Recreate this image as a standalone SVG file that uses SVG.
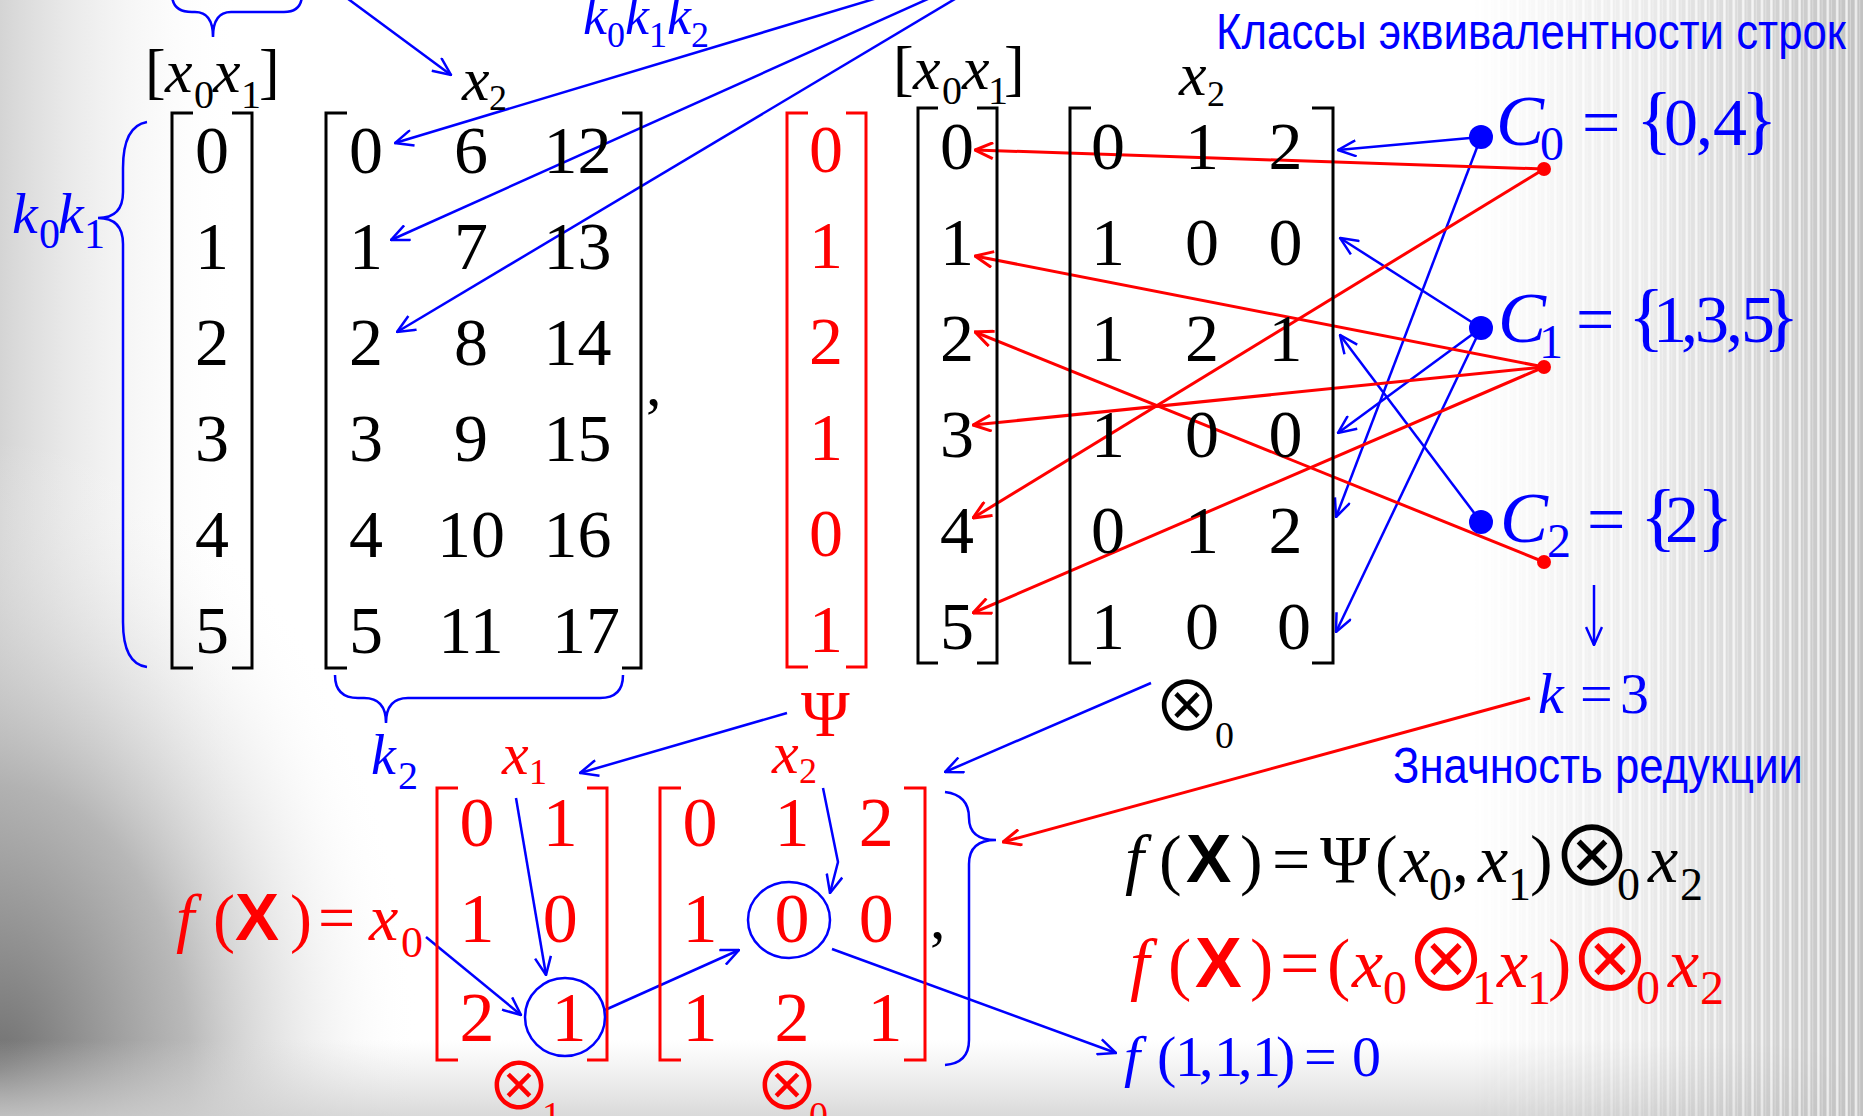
<svg xmlns="http://www.w3.org/2000/svg" width="1863" height="1116" viewBox="0 0 1863 1116">
<defs>
<style>
text{font-family:"Liberation Serif","Times New Roman",serif}
.i{font-style:italic}
.b{font-family:"Liberation Sans",Arial,sans-serif;font-weight:bold;font-style:normal}
.sym{font-family:"Noto Sans CJK JP","Noto Sans CJK SC","DejaVu Sans",sans-serif;font-style:normal;text-anchor:middle}
.sans{font-family:"Liberation Sans",Arial,sans-serif}
.K{fill:#000}.B{fill:#00f}.R{fill:#f00}
.mid{text-anchor:middle}
.bk{fill:none;stroke:#000;stroke-width:3}
.brd{fill:none;stroke:#f00;stroke-width:3}
.brace{fill:none;stroke:#00f;stroke-width:2.5}
.cb{fill:none;stroke:#00f;stroke-width:2.5;marker-end:url(#ab)}
.cr{fill:none;stroke:#f00;stroke-width:3;marker-end:url(#ar)}
.ring{fill:none;stroke:#00f;stroke-width:2.5}
</style>
<marker id="ab" viewBox="0 0 20 18" refX="19" refY="9" markerWidth="20" markerHeight="18" orient="auto" markerUnits="userSpaceOnUse"><path d="M1,1 L19,9 L1,17" fill="none" stroke="#00f" stroke-width="2.5"/></marker>
<marker id="ar" viewBox="0 0 20 18" refX="19" refY="9" markerWidth="20" markerHeight="18" orient="auto" markerUnits="userSpaceOnUse"><path d="M1,1 L19,9 L1,17" fill="none" stroke="#f00" stroke-width="3"/></marker>
<linearGradient id="gl" x1="0" x2="240" y1="0" y2="0" gradientUnits="userSpaceOnUse"><stop offset="0" stop-color="#d4d4d4"/><stop offset="1" stop-color="#fff" stop-opacity="0"/></linearGradient>
<radialGradient id="gbl" cx="0" cy="1070" r="420" gradientUnits="userSpaceOnUse" gradientTransform="translate(0,1070) scale(1,1.5) translate(0,-1070)"><stop offset="0" stop-color="#707070"/><stop offset="0.45" stop-color="#a8a8a8" stop-opacity="0.8"/><stop offset="1" stop-color="#fff" stop-opacity="0"/></radialGradient>
<linearGradient id="gbot" x1="0" x2="0" y1="1040" y2="1116" gradientUnits="userSpaceOnUse"><stop offset="0" stop-color="#d8d8d8" stop-opacity="0"/><stop offset="1" stop-color="#d0d0d0" stop-opacity="0.8"/></linearGradient>
<pattern id="stripes" x="0" y="0" width="9.4" height="20" patternUnits="userSpaceOnUse"><rect width="9.4" height="20" fill="#c2c2c2"/><rect x="3" width="2.4" height="20" fill="#f0f0f0"/><rect x="7.4" width="1" height="20" fill="#d8d8d8"/></pattern>
<linearGradient id="gfade" x1="1470" x2="1863" y1="0" y2="0" gradientUnits="userSpaceOnUse"><stop offset="0" stop-color="#000"/><stop offset="0.45" stop-color="#555"/><stop offset="1" stop-color="#fff"/></linearGradient>
<mask id="mfade"><rect x="1400" y="0" width="463" height="1116" fill="url(#gfade)"/></mask>
</defs>

<g id="background">
<rect width="1863" height="1116" fill="#fff"/>
<rect width="300" height="1116" fill="url(#gl)"/>
<rect width="700" height="1116" fill="url(#gbl)"/>
<rect y="1040" width="1863" height="76" fill="url(#gbot)"/>
<rect x="1400" width="463" height="1116" fill="url(#stripes)" mask="url(#mfade)"/>
</g>

<g id="connectors">
<line class="cb" x1="336" y1="-10" x2="451" y2="75"/>
<line class="cb" x1="1037" y1="-50" x2="395" y2="143"/>
<line class="cb" x1="1037" y1="-50" x2="391" y2="240"/>
<line class="cb" x1="1037" y1="-50" x2="397" y2="332"/>
<line class="cb" x1="1481" y1="137" x2="1338" y2="150"/>
<line class="cb" x1="1481" y1="137" x2="1336" y2="517"/>
<line class="cb" x1="1481" y1="328" x2="1340" y2="238"/>
<line class="cb" x1="1481" y1="328" x2="1338" y2="433"/>
<line class="cb" x1="1481" y1="328" x2="1336" y2="632"/>
<line class="cb" x1="1481" y1="522" x2="1340" y2="335"/>
<line class="cb" x1="1594" y1="585" x2="1594" y2="645"/>
<line class="cb" x1="787" y1="713" x2="580" y2="773"/>
<line class="cb" x1="1151" y1="683" x2="945" y2="772"/>
<line class="cb" x1="516" y1="798" x2="546" y2="975"/>
<line class="cb" x1="426" y1="937" x2="521" y2="1015"/>
<line class="cb" x1="605" y1="1010" x2="739" y2="950"/>
<polyline class="cb" points="823,788 838,862 830,893"/>
<line class="cb" x1="832" y1="949" x2="1116" y2="1053"/>
<line class="cr" x1="1544" y1="169" x2="975" y2="150"/>
<line class="cr" x1="1544" y1="169" x2="973" y2="518"/>
<line class="cr" x1="1544" y1="367" x2="975" y2="256"/>
<line class="cr" x1="1544" y1="367" x2="973" y2="425"/>
<line class="cr" x1="1544" y1="367" x2="973" y2="613"/>
<line class="cr" x1="1544" y1="562" x2="975" y2="332"/>
<line class="cr" x1="1530" y1="698" x2="1003" y2="842"/>
</g>

<g id="title-classes">
<text class="sans B" x="1216" y="49" font-size="50" textLength="630" lengthAdjust="spacingAndGlyphs">Классы эквивалентности строк</text>
</g>

<g id="brace-top"><path class="brace" d="M172,-6 Q172,12 192,12 L195,12 Q213,12 213,37 Q213,12 231,12 L284,12 Q302,12 302,-6"/></g>

<g id="label-k0k1k2">
<text class="B" font-size="54"><tspan class="i" x="583" y="34">k</tspan><tspan x="607" y="47" font-size="36">0</tspan><tspan class="i" x="625" y="34">k</tspan><tspan x="649" y="47" font-size="36">1</tspan><tspan class="i" x="667" y="34">k</tspan><tspan x="691" y="47" font-size="36">2</tspan></text>
</g>

<g id="label-x0x1-left">
<text class="K" font-size="62"><tspan x="145" y="92">[</tspan><tspan class="i" x="165" y="92">x</tspan><tspan x="194" y="108" font-size="40">0</tspan><tspan class="i" x="213" y="92">x</tspan><tspan x="241" y="108" font-size="40">1</tspan><tspan x="259" y="92">]</tspan></text>
</g>
<g id="label-x2-left">
<text class="K" font-size="62"><tspan class="i" x="462" y="100">x</tspan><tspan x="489" y="110" font-size="36">2</tspan></text>
</g>

<g id="label-k0k1">
<text class="B" font-size="58"><tspan class="i" x="12" y="233">k</tspan><tspan x="39" y="248" font-size="42">0</tspan><tspan class="i" x="58" y="233">k</tspan><tspan x="84" y="248" font-size="42">1</tspan></text>
<path class="brace" d="M147,122 Q123,126 123,168 L123,192 Q123,218 98,218 Q123,218 123,244 L123,622 Q123,664 147,667"/>
</g>

<g id="matrix-index">
<path class="bk" d="M193,113 H172 V668 H193 M232,113 H252 V668 H232"/>
<text class="K mid" font-size="68"><tspan x="212" y="173">0</tspan><tspan x="212" y="269">1</tspan><tspan x="212" y="365">2</tspan><tspan x="212" y="461">3</tspan><tspan x="212" y="557">4</tspan><tspan x="212" y="653">5</tspan></text>
</g>

<g id="matrix-values">
<path class="bk" d="M347,113 H326 V668 H347 M622,113 H641 V668 H622"/>
<text class="K mid" font-size="68">
<tspan x="366" y="173">0</tspan><tspan x="471" y="173">6</tspan><tspan x="586" y="173">12</tspan>
<tspan x="366" y="269">1</tspan><tspan x="471" y="269">7</tspan><tspan x="586" y="269">13</tspan>
<tspan x="366" y="365">2</tspan><tspan x="471" y="365">8</tspan><tspan x="586" y="365">14</tspan>
<tspan x="366" y="461">3</tspan><tspan x="471" y="461">9</tspan><tspan x="586" y="461">15</tspan>
<tspan x="366" y="557">4</tspan><tspan x="471" y="557">10</tspan><tspan x="586" y="557">16</tspan>
<tspan x="366" y="653">5</tspan><tspan x="471" y="653">11</tspan><tspan x="586" y="653">17</tspan>
</text>
<text class="K" x="646" y="405" font-size="62">,</text>
<path class="brace" d="M335,675 Q335,698 358,698 L364,698 Q386,698 386,723 Q386,698 408,698 L600,698 Q623,698 623,675"/>
</g>

<g id="label-k2">
<text class="B" font-size="56"><tspan class="i" x="371" y="774">k</tspan><tspan x="398" y="789" font-size="40">2</tspan></text>
</g>

<g id="psi-vector">
<path class="brd" d="M808,113 H787 V667 H808 M846,113 H866 V667 H846"/>
<text class="R mid" font-size="68"><tspan x="826" y="172">0</tspan><tspan x="826" y="268">1</tspan><tspan x="826" y="364">2</tspan><tspan x="826" y="460">1</tspan><tspan x="826" y="556">0</tspan><tspan x="826" y="652">1</tspan></text>
</g>
<g id="psi-label"><text class="R" x="801" y="736" font-size="66">Ψ</text></g>

<g id="label-x0x1-right">
<text class="K" font-size="62"><tspan x="893" y="89">[</tspan><tspan class="i" x="913" y="89">x</tspan><tspan x="942" y="104" font-size="40">0</tspan><tspan class="i" x="962" y="89">x</tspan><tspan x="988" y="104" font-size="40">1</tspan><tspan x="1004" y="89">]</tspan></text>
</g>
<g id="matrix-x0x1-right">
<path class="bk" d="M938,108 H918 V663 H938 M977,108 H997 V663 H977"/>
<text class="K mid" font-size="68"><tspan x="957" y="169">0</tspan><tspan x="957" y="265">1</tspan><tspan x="957" y="361">2</tspan><tspan x="957" y="457">3</tspan><tspan x="957" y="553">4</tspan><tspan x="957" y="649">5</tspan></text>
</g>

<g id="label-x2-right">
<text class="K" font-size="62"><tspan class="i" x="1179" y="95">x</tspan><tspan x="1207" y="106" font-size="36">2</tspan></text>
</g>
<g id="matrix-x2-right">
<path class="bk" d="M1091,108 H1070 V663 H1091 M1312,108 H1333 V663 H1312"/>
<text class="K mid" font-size="68">
<tspan x="1108" y="169">0</tspan><tspan x="1202" y="169">1</tspan><tspan x="1294" y="169">2</tspan>
<tspan x="1108" y="265">1</tspan><tspan x="1202" y="265">0</tspan><tspan x="1294" y="265">0</tspan>
<tspan x="1108" y="361">1</tspan><tspan x="1202" y="361">2</tspan><tspan x="1294" y="361">1</tspan>
<tspan x="1108" y="457">1</tspan><tspan x="1202" y="457">0</tspan><tspan x="1294" y="457">0</tspan>
<tspan x="1108" y="553">0</tspan><tspan x="1202" y="553">1</tspan><tspan x="1294" y="553">2</tspan>
<tspan x="1108" y="649">1</tspan><tspan x="1202" y="649">0</tspan><tspan x="1294" y="649">0</tspan>
</text>
</g>

<g id="class-c0">
<circle cx="1481" cy="137" r="12" fill="#00f"/>
<circle cx="1544" cy="169" r="7" fill="#f00"/>
<text class="B" font-size="68"><tspan class="i" x="1496" y="145" font-size="72">C</tspan><tspan x="1540" y="160" font-size="48">0</tspan><tspan x="1582" y="145">=</tspan><tspan x="1636" y="145" font-size="76">{</tspan><tspan x="1664" y="145">0</tspan><tspan x="1696" y="145">,</tspan><tspan x="1713" y="145">4</tspan><tspan x="1741" y="145" font-size="76">}</tspan></text>
</g>
<g id="class-c1">
<circle cx="1481" cy="328" r="12" fill="#00f"/>
<circle cx="1544" cy="367" r="7" fill="#f00"/>
<text class="B" font-size="68"><tspan class="i" x="1498" y="342" font-size="72">C</tspan><tspan x="1539" y="358" font-size="48">1</tspan><tspan x="1576" y="342">=</tspan><tspan x="1628" y="342" font-size="76">{</tspan><tspan x="1653" y="342">1</tspan><tspan x="1681" y="342">,</tspan><tspan x="1695" y="342">3</tspan><tspan x="1726" y="342">,</tspan><tspan x="1741" y="342">5</tspan><tspan x="1763" y="342" font-size="76">}</tspan></text>
</g>
<g id="class-c2">
<circle cx="1481" cy="522" r="12" fill="#00f"/>
<circle cx="1544" cy="562" r="7" fill="#f00"/>
<text class="B" font-size="68"><tspan class="i" x="1500" y="542" font-size="72">C</tspan><tspan x="1547" y="557" font-size="48">2</tspan><tspan x="1587" y="542">=</tspan><tspan x="1640" y="542" font-size="76">{</tspan><tspan x="1665" y="542">2</tspan><tspan x="1697" y="542" font-size="76">}</tspan></text>
</g>

<g id="k3">
<text class="B" font-size="58"><tspan class="i" x="1538" y="713">k</tspan><tspan x="1580" y="713">=</tspan><tspan x="1620" y="713">3</tspan></text>
</g>
<g id="reduction-label">
<text class="sans B" x="1393" y="783" font-size="50" textLength="410" lengthAdjust="spacingAndGlyphs">Значность редукции</text>
</g>

<g id="otimes0">
<text class="sym K" x="1187" y="731" font-size="68">⊗</text>
<text class="K" x="1215" y="748" font-size="38">0</text>
</g>

<g id="fx-left">
<text class="R" font-size="66"><tspan class="i" x="176" y="940">f</tspan><tspan x="213" y="940">(</tspan><tspan class="b" x="235" y="940">X</tspan><tspan x="290" y="940">)</tspan><tspan x="318" y="940">=</tspan><tspan class="i" x="369" y="940">x</tspan><tspan x="401" y="957" font-size="44">0</tspan></text>
</g>

<g id="label-x1-low"><text class="R" font-size="60"><tspan class="i" x="502" y="774">x</tspan><tspan x="529" y="784" font-size="36">1</tspan></text></g>
<g id="matrix-a">
<path class="brd" d="M458,788 H437 V1060 H458 M587,788 H607 V1060 H587"/>
<text class="R mid" font-size="70">
<tspan x="477" y="846">0</tspan><tspan x="569" y="846">1</tspan>
<tspan x="477" y="942">1</tspan><tspan x="569" y="942">0</tspan>
<tspan x="477" y="1041">2</tspan><tspan x="569" y="1041">1</tspan>
</text>
<ellipse class="ring" cx="565" cy="1017" rx="40" ry="39"/>
<text class="sym R" x="519" y="1110" font-size="66">⊗</text>
<text class="R" x="542" y="1128" font-size="38">1</text>
</g>

<g id="label-x2-low"><text class="R" font-size="60"><tspan class="i" x="772" y="773">x</tspan><tspan x="799" y="783" font-size="36">2</tspan></text></g>
<g id="matrix-b">
<path class="brd" d="M681,788 H660 V1060 H681 M904,788 H925 V1060 H904"/>
<text class="R mid" font-size="70">
<tspan x="700" y="846">0</tspan><tspan x="792" y="846">1</tspan><tspan x="885" y="846">2</tspan>
<tspan x="700" y="942">1</tspan><tspan x="792" y="942">0</tspan><tspan x="885" y="942">0</tspan>
<tspan x="700" y="1041">1</tspan><tspan x="792" y="1041">2</tspan><tspan x="885" y="1041">1</tspan>
</text>
<ellipse class="ring" cx="789" cy="920" rx="41" ry="38"/>
<text class="K" x="930" y="938" font-size="62">,</text>
<text class="sym R" x="787" y="1110" font-size="66">⊗</text>
<text class="R" x="809" y="1128" font-size="38">0</text>
</g>

<g id="brace-right"><path class="brace" d="M945,792 Q969,795 969,818 Q969,840 996,840 Q969,840 969,864 L969,1040 Q969,1063 945,1065"/></g>

<g id="formula-psi">
<text class="K" font-size="68"><tspan class="i" x="1125" y="882">f</tspan><tspan x="1159" y="882">(</tspan><tspan class="b" x="1186" y="882">X</tspan><tspan x="1240" y="882">)</tspan><tspan x="1272" y="882">=</tspan><tspan x="1320" y="882">Ψ</tspan><tspan x="1375" y="882">(</tspan><tspan class="i" x="1400" y="882">x</tspan><tspan x="1429" y="900" font-size="46">0</tspan><tspan x="1452" y="882">,</tspan><tspan class="i" x="1478" y="882">x</tspan><tspan x="1508" y="900" font-size="46">1</tspan><tspan x="1530" y="882">)</tspan><tspan x="1617" y="900" font-size="46">0</tspan><tspan class="i" x="1648" y="882">x</tspan><tspan x="1680" y="900" font-size="46">2</tspan></text>
<text class="sym K" x="1592" y="886" font-size="82">⊗</text>
</g>

<g id="formula-expanded">
<text class="R" font-size="70"><tspan class="i" x="1130" y="987">f</tspan><tspan x="1168" y="987">(</tspan><tspan class="b" x="1195" y="987">X</tspan><tspan x="1250" y="987">)</tspan><tspan x="1280" y="987">=</tspan><tspan x="1327" y="987">(</tspan><tspan class="i" x="1352" y="987">x</tspan><tspan x="1383" y="1004" font-size="48">0</tspan><tspan x="1472" y="1004" font-size="48">1</tspan><tspan class="i" x="1497" y="987">x</tspan><tspan x="1527" y="1004" font-size="48">1</tspan><tspan x="1548" y="987">)</tspan><tspan x="1636" y="1004" font-size="48">0</tspan><tspan class="i" x="1668" y="987">x</tspan><tspan x="1700" y="1004" font-size="48">2</tspan></text>
<text class="sym R" x="1446" y="991" font-size="84">⊗</text>
<text class="sym R" x="1610" y="991" font-size="84">⊗</text>
</g>

<g id="result">
<text class="B" font-size="58"><tspan class="i" x="1124" y="1076">f</tspan><tspan x="1157" y="1076">(</tspan><tspan x="1175" y="1076">1</tspan><tspan x="1199" y="1076">,</tspan><tspan x="1214" y="1076">1</tspan><tspan x="1238" y="1076">,</tspan><tspan x="1252" y="1076">1</tspan><tspan x="1276" y="1076">)</tspan><tspan x="1304" y="1076">=</tspan><tspan x="1352" y="1076">0</tspan></text>
</g>
</svg>
